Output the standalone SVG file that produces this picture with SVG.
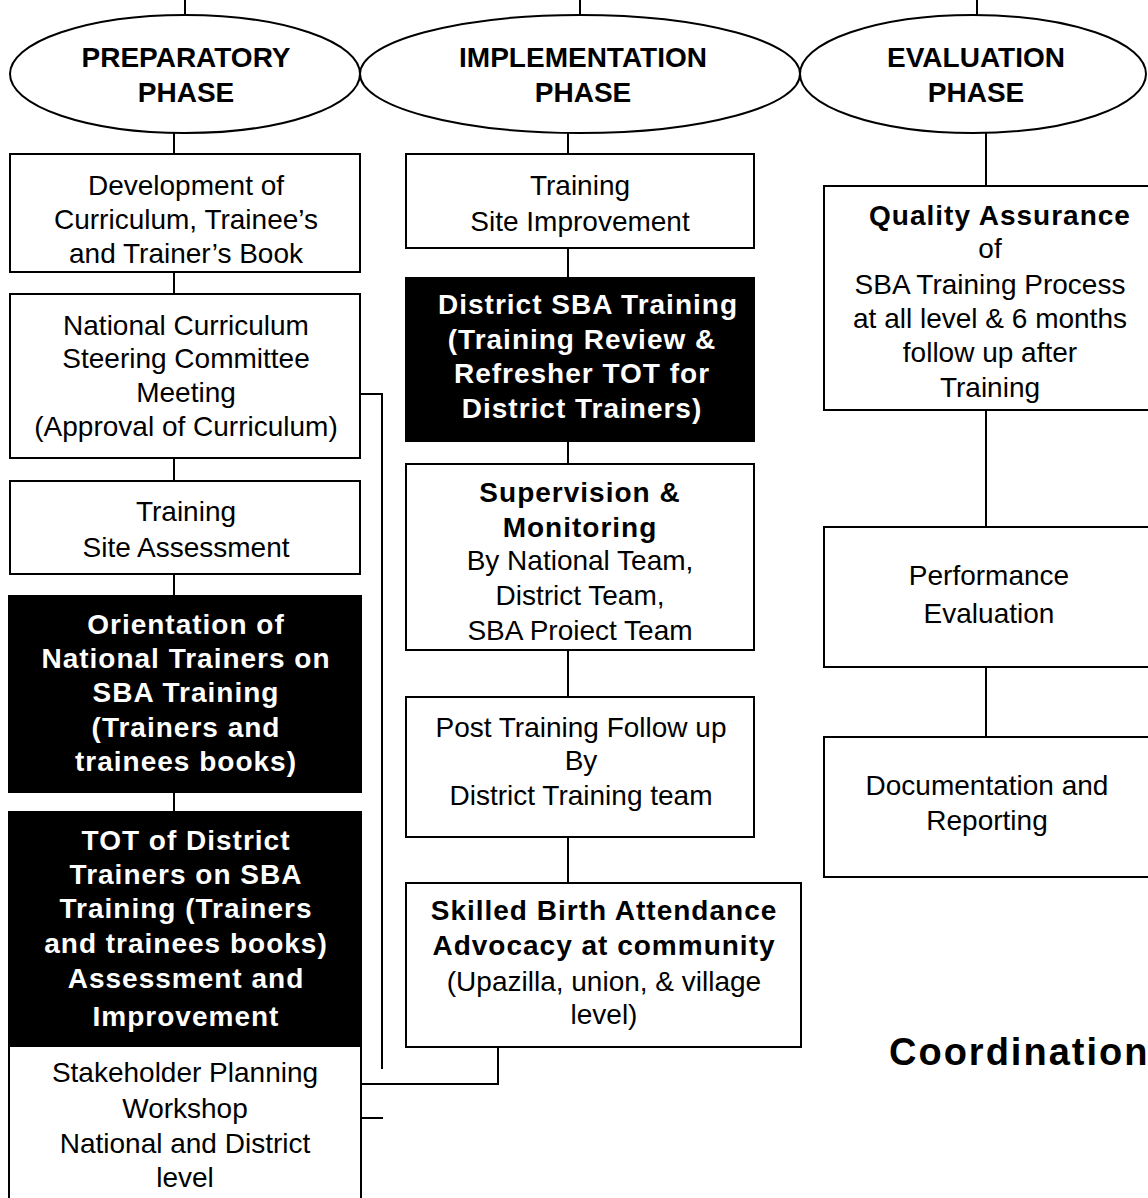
<svg xmlns="http://www.w3.org/2000/svg" width="1148" height="1198" viewBox="0 0 1148 1198">
<style>
.b{fill:#fff;stroke:#000;stroke-width:2}
.k{fill:#000;stroke:#000;stroke-width:2}
.e{fill:#fff;stroke:#000;stroke-width:2}
text{font-family:"Liberation Sans",Arial,sans-serif;font-size:28px;text-anchor:middle;fill:#000}
.w{fill:#fff;font-weight:bold;letter-spacing:1px}
.bd{font-weight:bold;letter-spacing:1px}
.ph{font-weight:bold}
#connectors line,#connectors polyline{stroke:#000;stroke-width:2;fill:none}
</style>
<rect width="1148" height="1198" fill="#fff"/>
<g id="connectors">
<line x1="185" y1="0" x2="185" y2="15"/>
<line x1="580" y1="0" x2="580" y2="15"/>
<line x1="977" y1="0" x2="977" y2="15"/>
<line x1="174" y1="133" x2="174" y2="154"/>
<line x1="568" y1="133" x2="568" y2="154"/>
<line x1="986" y1="133" x2="986" y2="186"/>
<line x1="174" y1="272" x2="174" y2="294"/>
<line x1="174" y1="458" x2="174" y2="481"/>
<line x1="174" y1="574" x2="174" y2="596"/>
<line x1="174" y1="792" x2="174" y2="812"/>
<line x1="568" y1="248" x2="568" y2="278"/>
<line x1="568" y1="441" x2="568" y2="464"/>
<line x1="568" y1="650" x2="568" y2="697"/>
<line x1="568" y1="837" x2="568" y2="883"/>
<line x1="986" y1="410" x2="986" y2="527"/>
<line x1="986" y1="667" x2="986" y2="737"/>
<polyline points="360,394 382,394 382,1069"/>
<polyline points="361,1084 498,1084 498,1016"/>
<line x1="361" y1="1118" x2="383" y2="1118"/>
<line x1="183" y1="1068" x2="183" y2="1118"/>
</g>
<g id="ph1"><ellipse class="e" cx="185" cy="74" rx="175" ry="59"/><text class="ph" x="186" y="67">PREPARATORY</text><text class="ph" x="186" y="102">PHASE</text></g>
<g id="ph2"><ellipse class="e" cx="580" cy="74" rx="220" ry="59"/><text class="ph" x="583" y="67">IMPLEMENTATION</text><text class="ph" x="583" y="102">PHASE</text></g>
<g id="ph3"><ellipse class="e" cx="973" cy="74" rx="173" ry="59"/><text class="ph" x="976" y="67">EVALUATION</text><text class="ph" x="976" y="102">PHASE</text></g>

<g id="p1"><rect class="b" x="10" y="154" width="350" height="118"/><text x="186" y="195">Development of</text><text x="186" y="229">Curriculum, Trainee’s</text><text x="186" y="263">and Trainer’s Book</text></g>
<g id="p2"><rect class="b" x="10" y="294" width="350" height="164"/><text x="186" y="335">National Curriculum</text><text x="186" y="368">Steering Committee</text><text x="186" y="402">Meeting</text><text x="186" y="436">(Approval of Curriculum)</text></g>
<g id="p3"><rect class="b" x="10" y="481" width="350" height="93"/><text x="186" y="521">Training</text><text x="186" y="557">Site Assessment</text></g>
<g id="p4"><rect class="k" x="9" y="596" width="352" height="196"/><text class="w" x="186" y="634">Orientation of</text><text class="w" x="186" y="668">National Trainers on</text><text class="w" x="186" y="702">SBA Training</text><text class="w" x="186" y="737">(Trainers and</text><text class="w" x="186" y="771">trainees books)</text></g>
<g id="p5"><rect class="k" x="9" y="812" width="352" height="234"/><text class="w" x="186" y="850">TOT of District</text><text class="w" x="186" y="884">Trainers on SBA</text><text class="w" x="186" y="918">Training (Trainers</text><text class="w" x="186" y="953">and trainees books)</text><text class="w" x="186" y="988">Assessment and</text><text class="w" x="186" y="1026">Improvement</text></g>
<g id="p6"><rect class="b" x="9" y="1046" width="352" height="170"/><text x="185" y="1082">Stakeholder Planning</text><text x="185" y="1118">Workshop</text><text x="185" y="1153">National and District</text><text x="185" y="1187">level</text></g>

<g id="i1"><rect class="b" x="406" y="154" width="348" height="94"/><text x="580" y="195">Training</text><text x="580" y="231">Site Improvement</text></g>
<g id="i2"><rect class="k" x="406" y="278" width="348" height="163"/><text class="w" x="588" y="314">District SBA Training</text><text class="w" x="582" y="349">(Training Review &amp;</text><text class="w" x="582" y="383">Refresher TOT for</text><text class="w" x="582" y="418">District Trainers)</text></g>
<g id="i3"><rect class="b" x="406" y="464" width="348" height="186"/><text class="bd" x="580" y="502">Supervision &amp;</text><text class="bd" x="580" y="537">Monitoring</text><text x="580" y="570">By National Team,</text><text x="580" y="605">District Team,</text><text x="580" y="640">SBA Proiect Team</text></g>
<g id="i4"><rect class="b" x="406" y="697" width="348" height="140"/><text x="581" y="737">Post Training Follow up</text><text x="581" y="770">By</text><text x="581" y="805">District Training team</text></g>
<g id="i5"><rect class="b" x="406" y="883" width="395" height="164"/><text class="bd" x="604" y="920">Skilled Birth Attendance</text><text class="bd" x="604" y="955">Advocacy at community</text><text x="604" y="991">(Upazilla, union, &amp; village</text><text x="604" y="1024">level)</text></g>

<g id="e1"><rect class="b" x="824" y="186" width="340" height="224"/><text class="bd" x="1000" y="225">Quality Assurance</text><text x="990" y="258">of</text><text x="990" y="294">SBA Training Process</text><text x="990" y="328">at all level &amp; 6 months</text><text x="990" y="362">follow up after</text><text x="990" y="397">Training</text></g>
<g id="e2"><rect class="b" x="824" y="527" width="340" height="140"/><text x="989" y="585">Performance</text><text x="989" y="623">Evaluation</text></g>
<g id="e3"><rect class="b" x="824" y="737" width="340" height="140"/><text x="987" y="795">Documentation and</text><text x="987" y="830">Reporting</text></g>

<g id="coord"><text x="889" y="1065" style="text-anchor:start;font-weight:bold;font-size:38px;letter-spacing:2px">Coordination</text></g>
</svg>
